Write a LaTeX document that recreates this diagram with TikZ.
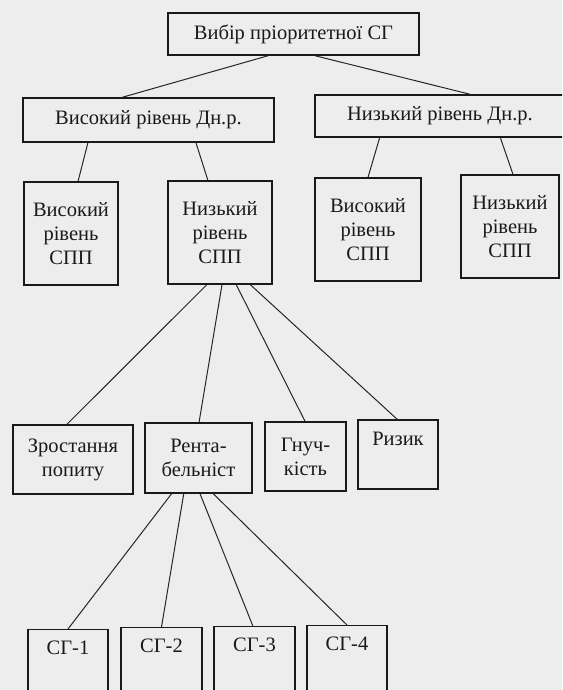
\documentclass[tikz,border=0pt]{standalone}
\usepackage{fontspec}
\setmainfont{Liberation Serif}
\usetikzlibrary{calc}
\begin{document}
\begin{tikzpicture}[x=1pt,y=-1pt,
  box/.style={draw=black!90, line width=1.4pt, align=center, inner sep=0pt,
    font=\fontsize{20.5}{24}\selectfont, text=black!90},
  topbox/.style={box, anchor=north, inner ysep=11pt, text depth=70pt},
  link/.style={draw=black!85, line width=1pt}]
\fill[black!7] (0,0) rectangle (562,690);
\useasboundingbox (0,0) rectangle (562,690);
\clip (0,0) rectangle (562,690);
% level 1
\node[box, minimum width=251pt, minimum height=42pt] (top) at (293.5,34) {Вибір пріоритетної СГ};
% level 2
\node[box, minimum width=251pt, minimum height=44pt] (dnL) at (148.5,120) {Високий рівень Дн.р.};
\node[box, minimum width=250pt, minimum height=42pt] (dnR) at (440,116) {Низький рівень Дн.р.};
% level 3
\node[box, minimum width=94pt, minimum height=103pt] (b1) at (71,233.5) {Високий\\рівень\\СПП};
\node[box, minimum width=104pt, minimum height=103pt] (b2) at (220,232.5) {Низький\\рівень\\СПП};
\node[box, minimum width=106pt, minimum height=103pt] (b3) at (368,229.5) {Високий\\рівень\\СПП};
\node[box, minimum width=98pt, minimum height=103pt] (b4) at (510,226.5) {Низький\\рівень\\СПП};
% level 4
\node[box, minimum width=120pt, minimum height=69pt] (c1) at (73,459.5) {Зростання\\попиту};
\node[box, minimum width=107pt, minimum height=70pt] (c2) at (198.5,458) {Рента-\\бельніст};
\node[box, minimum width=81pt, minimum height=69pt] (c3) at (305.5,456.5) {Гнуч-\\кість};
\node[box, minimum width=80pt, minimum height=69pt] (c4) at (398,454.5) {Ризик\\\strut};
% level 5
\node[topbox, minimum width=80pt] (d1) at (68,629) {СГ-1};
\node[topbox, minimum width=81pt] (d2) at (161.5,627) {СГ-2};
\node[topbox, minimum width=81pt] (d3) at (254.5,626) {СГ-3};
\node[topbox, minimum width=80pt] (d4) at (347,625) {СГ-4};
% connectors
\draw[link] ($(top.south west)!0.40!(top.south east)$) -- ($(dnL.north west)!0.396!(dnL.north east)$);
\draw[link] ($(top.south west)!0.585!(top.south east)$) -- ($(dnR.north west)!0.62!(dnR.north east)$);
\draw[link] ($(dnL.south west)!0.26!(dnL.south east)$) -- ($(b1.north west)!0.574!(b1.north east)$);
\draw[link] ($(dnL.south west)!0.688!(dnL.south east)$) -- ($(b2.north west)!0.385!(b2.north east)$);
\draw[link] ($(dnR.south west)!0.26!(dnR.south east)$) -- ($(b3.north west)!0.5!(b3.north east)$);
\draw[link] ($(dnR.south west)!0.74!(dnR.south east)$) -- ($(b4.north west)!0.53!(b4.north east)$);
\draw[link] ($(b2.south west)!0.375!(b2.south east)$) -- ($(c1.north west)!0.45!(c1.north east)$);
\draw[link] ($(b2.south west)!0.519!(b2.south east)$) -- ($(c2.north west)!0.505!(c2.north east)$);
\draw[link] ($(b2.south west)!0.654!(b2.south east)$) -- ($(c3.north west)!0.494!(c3.north east)$);
\draw[link] ($(b2.south west)!0.788!(b2.south east)$) -- ($(c4.north west)!0.49!(c4.north east)$);
\draw[link] ($(c2.south west)!0.252!(c2.south east)$) -- ($(d1.north west)!0.5!(d1.north east)$);
\draw[link] ($(c2.south west)!0.364!(c2.south east)$) -- ($(d2.north west)!0.5!(d2.north east)$);
\draw[link] ($(c2.south west)!0.514!(c2.south east)$) -- ($(d3.north west)!0.48!(d3.north east)$);
\draw[link] ($(c2.south west)!0.636!(c2.south east)$) -- ($(d4.north west)!0.5!(d4.north east)$);
\end{tikzpicture}
\end{document}
